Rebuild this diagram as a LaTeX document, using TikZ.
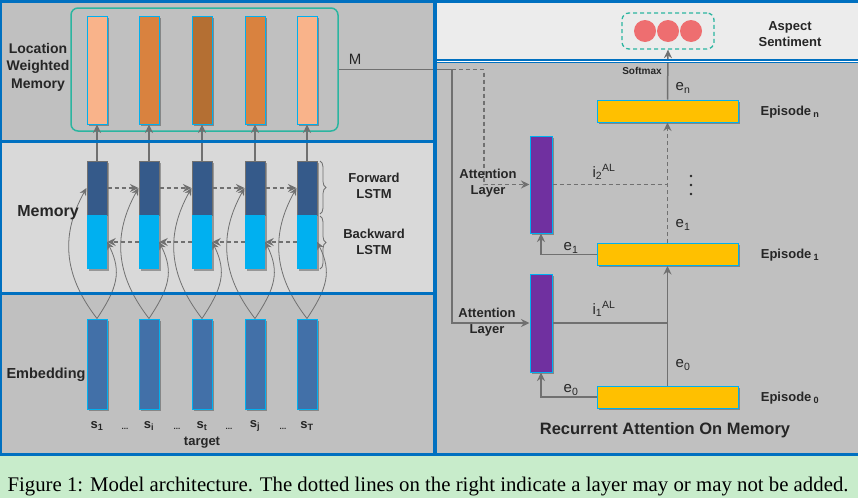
\documentclass[tikz,border=0pt]{standalone}
\usepackage{fontspec}
\setmainfont{Liberation Sans}
\newfontfamily\capfont{Liberation Serif}
\usetikzlibrary{arrows.meta,shadows,decorations.pathreplacing}

\definecolor{panelgray}{HTML}{C0C0C0}
\definecolor{panellight}{HTML}{D9D9D9}
\definecolor{paneltop}{HTML}{ECECEC}
\definecolor{capgreen}{HTML}{C8ECCB}
\definecolor{frameblue}{HTML}{0070C0}
\definecolor{linegray}{HTML}{707070}
\definecolor{cellcyan}{HTML}{00B0F0}
\definecolor{salmon}{HTML}{F9B38A}
\definecolor{orng}{HTML}{D9823F}
\definecolor{brwn}{HTML}{B46F33}
\definecolor{lstmdark}{HTML}{355A8A}
\definecolor{embblue}{HTML}{4270A8}
\definecolor{attpurple}{HTML}{7030A0}
\definecolor{epyellow}{HTML}{FFC000}
\definecolor{boxteal}{HTML}{2BB5A0}
\definecolor{dotred}{HTML}{EE6E70}
\definecolor{txt}{HTML}{262626}

\tikzset{
  shad/.style={drop shadow={shadow xshift=1.5pt,shadow yshift=-1.5pt,opacity=.3,fill=black}},
  cell/.style={shad,draw=cellcyan,line width=1pt,inner sep=0pt,minimum width=20pt},
  fwdcell/.style={shad,fill=lstmdark,draw=linegray,line width=1pt,inner sep=0pt,minimum width=20pt,minimum height=54pt},
  bwdcell/.style={shad,fill=cellcyan,inner sep=0pt,minimum width=20pt,minimum height=54pt},
  att/.style={shad,fill=attpurple,draw=cellcyan,line width=1pt,inner sep=0pt,minimum width=22pt},
  epi/.style={shad,fill=epyellow,draw=cellcyan,line width=1pt,inner sep=0pt,minimum width=141pt,minimum height=22pt},
  line/.style={draw=linegray,line width=1.5pt},
  conn/.style={line,-{Stealth[length=8.5pt,width=8pt]}},
  curve/.style={draw=linegray,line width=0.8pt,-{Stealth[length=7.5pt,width=7pt]}},
  dashline/.style={dash pattern=on 4pt off 3pt},
  lbl/.style={text=txt,align=center,font=\fontsize{13}{16}\selectfont\bfseries},
  elbl/.style={text=txt,font=\fontsize{15}{18}\selectfont},
  border/.style={draw=frameblue,line width=3pt}
}

\begin{document}
\begin{tikzpicture}[x=1pt,y=-1pt]
  \useasboundingbox (0,0) rectangle (858,498);
  % panels
  \fill[panelgray] (0,0) rectangle (435,141);
  \fill[panellight] (0,141) rectangle (435,293);
  \fill[panelgray] (0,293) rectangle (435,454);
  \fill[paneltop] (435,0) rectangle (858,61);
  \fill[panelgray] (435,61) rectangle (858,454);
  \fill[capgreen] (0,454) rectangle (858,498);

  % left side
  \node[draw=boxteal,line width=1.5pt,rounded corners=7pt,minimum width=267pt,minimum height=123pt] (lwm) at (204.5,69.5) {};
  \foreach \i/\x/\c in {1/97/salmon,2/149/orng,3/202/brwn,4/255/orng,5/307/salmon}{
    \node[cell,fill=\c,minimum height=108pt] (m\i) at (\x,70) {};
    \node[fwdcell] (f\i) at (\x,188) {};
    \node[bwdcell] (b\i) at (\x,242) {};
    \node[cell,fill=embblue,minimum height=90pt] (e\i) at (\x,364) {};
    \draw[conn] (f\i.north) -- (m\i.south);
    \draw[curve] (e\i.north) .. controls +(-35,-45) and +(-25,45) .. (f\i.west);
    \draw[curve] (e\i.north) .. controls +(20,-30) and +(15,30) .. (b\i.east);
  }
  \foreach \i/\j in {1/2,2/3,3/4,4/5}{
    \draw[conn,dashline] (f\i.east) -- (f\j.west);
    \draw[conn,dashline] (b\j.west) -- (b\i.east);
  }
  \draw[draw=linegray,line width=0.8pt,decorate,decoration={brace,amplitude=6pt}] (320,161) -- (320,214);
  \draw[draw=linegray,line width=0.8pt,decorate,decoration={brace,amplitude=6pt}] (320,216) -- (320,269);

  \node[lbl,font=\fontsize{14}{17.5}\selectfont\bfseries] (lwmtxt) at (38,67) {Location\\Weighted\\Memory};
  \node[lbl,font=\fontsize{16}{19}\selectfont\bfseries] (memtxt) at (48,213) {Memory};
  \node[lbl,font=\fontsize{14.5}{17}\selectfont\bfseries] (embtxt) at (46,375) {Embedding};
  \node[lbl] (fwdtxt) at (374,186) {Forward\\LSTM};
  \node[lbl] (bwdtxt) at (374,242) {Backward\\LSTM};
  \node[lbl] (s1) at (97,426) {s\textsubscript{1}};
  \node[lbl] (si) at (149,426) {s\textsubscript{i}};
  \node[lbl] (st) at (202,426) {s\textsubscript{t}};
  \node[lbl] (sj) at (255,426) {s\textsubscript{j}};
  \node[lbl] (sT) at (307,426) {s\textsubscript{T}};
  \foreach \x in {125,177,229,283}
    \node[lbl,font=\fontsize{8}{9}\selectfont\bfseries] at (\x,429) {...};
  \node[lbl] (tgt) at (202,443) {target};

  % right side
  \coordinate (mj) at ([xshift=113pt]lwm.east);
  \coordinate (mk) at ([xshift=145pt]lwm.east);
  \node[elbl] (mtxt) at (355,59) {M};
  \node[att,minimum height=97pt] (att2) at (541,184.5) {};
  \node[att,minimum height=98pt] (att1) at (541,323) {};
  \node[epi] (epn) at (667.5,111) {};
  \node[epi] (ep1) at (667.5,254.5) {};
  \node[epi] (ep0) at (667.5,397) {};
  \node[draw=boxteal,line width=1.3pt,dashline,rounded corners=7pt,minimum width=92pt,minimum height=36pt] (sent) at (668,31) {};
  \foreach \i/\x in {1/645,2/668,3/691}
    \node[circle,fill=dotred,minimum size=22pt,inner sep=0pt] (c\i) at (\x,31) {};

  \draw[conn] (lwm.east) -- (mj) |- (att1.west);
  \draw[conn,dashline] (mj) -- (mk) |- (att2.west);
  \draw[line] (att1.east) -- (att1.east -| ep0.north);
  \draw[conn] (ep0.north) -- (ep1.south);
  \draw[line,dashline] (att2.east) -- (att2.east -| ep1.north);
  \draw[conn,dashline] (ep1.north) -- (epn.south);
  \draw[conn] (epn.north) -- (sent.south);
  \draw[conn] (ep1.west) -| (att2.south);
  \draw[conn] (ep0.west) -| (att1.south);
  \foreach \y in {176,185,194}
    \fill[txt] (691,\y) circle (1.4pt);

  \node[lbl,font=\fontsize{10}{12}\selectfont\bfseries] (smax) at (642,71) {Softmax};
  \node[lbl] (asp) at (790,34) {Aspect\\Sentiment};
  \node[lbl] (epntxt) at (790,112) {Episode\,\textsubscript{n}};
  \node[lbl] (ep1txt) at (790,255) {Episode\,\textsubscript{1}};
  \node[lbl] (ep0txt) at (790,398) {Episode\,\textsubscript{0}};
  \node[lbl] (att2txt) at (488,183) {Attention\\Layer};
  \node[lbl] (att1txt) at (487,322) {Attention\\Layer};
  \node[elbl] (en) at (683,88) {e\textsubscript{n}};
  \node[elbl] (e1a) at (683,225) {e\textsubscript{1}};
  \node[elbl] (e1b) at (571,248) {e\textsubscript{1}};
  \node[elbl] (e0a) at (683,365) {e\textsubscript{0}};
  \node[elbl] (e0b) at (571,390) {e\textsubscript{0}};
  \node[elbl] (i2) at (604,172) {i\textsubscript{2}\textsuperscript{AL}};
  \node[elbl] (i1) at (604,309) {i\textsubscript{1}\textsuperscript{AL}};
  \node[text=txt,font=\fontsize{16.5}{20}\selectfont\bfseries] (ram) at (665,430) {Recurrent Attention On Memory};

  % frame lines
  \draw[border] (0,1) -- (858,1);
  \draw[border,line width=2.5pt] (1,0) -- (1,455);
  \draw[border,line width=3.5pt] (435,0) -- (435,455);
  \draw[border] (0,141) -- (435,141);
  \draw[border] (0,293.5) -- (435,293.5);
  \draw[border] (0,454) -- (858,454);
  \draw[border,line width=4pt] (435,61) -- (858,61);
  \draw[white,line width=0.8pt] (437,61.3) -- (858,61.3);

  % caption
  \node[text=black,font=\capfont\fontsize{20.8}{23}\selectfont] (cap) at (428,487) {Figure 1: Model architecture. The dotted lines on the right indicate a layer may or may not be added.};
\end{tikzpicture}
\end{document}
